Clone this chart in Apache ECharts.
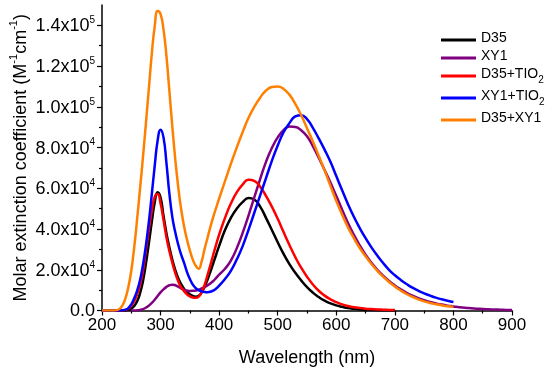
<!DOCTYPE html>
<html>
<head>
<meta charset="utf-8">
<script src="https://cdn.jsdelivr.net/npm/echarts@6/dist/echarts.min.js"></script>
<style>html,body{margin:0;padding:0;background:#fff}#c{width:550px;height:372px}</style>
</head>
<body>
<div id="c"></div>
<script>
// Data (molar extinction coefficient, M^-1 cm^-1) vs wavelength (nm)
const seriesNames = ['D35', 'XY1', 'D35+TIO2', 'XY1+TIO2', 'D35+XY1'];
const legendLabels = ['D35', 'XY1', 'D35+TIO{sub|2}', 'XY1+TIO{sub|2}', 'D35+XY1'];

const d35X = [200,240,245,250,255,260,265,270,275,280,285,290,295,300,305,310,315,320,325,330,335,340,345,350,355,360,365,370,375,380,385,390,395,400,410,420,430,440,450,460,470,480,490,500,510,520,530,540,550,560,570,580,590,600,610,620,630,640,650,660,680,700];
const d35Y = [0,0,300,900,2200,4500,8500,14500,23000,33000,43500,53000,58000,55500,46500,38000,31000,25000,20000,16000,13000,10700,9000,7900,7100,6800,7200,8800,11500,15000,19000,23300,27500,31700,39500,45500,50000,53200,55200,54500,51000,45500,39500,33500,27800,22800,18500,14800,11500,8800,6600,4800,3500,2500,1800,1200,800,500,300,200,100,0];

const xy1X = [250,255,260,265,270,275,280,285,290,295,300,305,310,315,320,325,330,335,340,345,350,355,360,365,370,375,380,385,390,395,400,410,420,430,440,450,460,470,480,490,500,510,520,530,540,550,560,570,580,590,600,610,620,630,640,650,660,670,680,690,700,710,720,730,740,750,760,770,780,790,800,810,820,830,840,850,860,870,880,890,900];
const xy1Y = [0,0,100,300,700,1400,2400,3700,5300,7100,8900,10400,11600,12400,12700,12400,11700,10900,10200,9800,9600,9650,9800,10200,10800,11500,12300,13300,14500,16000,17600,20500,24500,30500,38000,46500,55500,64500,73000,79800,85000,88500,90300,90100,88500,85500,80700,75000,69000,62800,56200,49500,43000,37200,32000,27400,23400,20000,17100,14500,12300,10400,8700,7300,6100,5100,4200,3500,2900,2400,2000,1600,1300,1100,900,700,600,500,400,300,200];

const d35TiO2X = [200,235,240,245,250,255,260,265,270,275,280,285,290,295,300,305,310,315,320,325,330,335,340,345,350,355,360,365,370,375,380,385,390,395,400,410,420,430,440,450,460,470,480,490,500,510,520,530,540,550,560,570,580,590,600,610,620,630,640,650,660,670,680,690,700];
const d35TiO2Y = [0,0,300,900,2200,4500,8000,12500,19500,29500,39500,49000,55800,57200,52500,44500,36000,29200,23500,18500,14500,11500,9500,8000,7000,6400,6200,6800,9000,12500,17200,22200,27500,32500,37200,45500,52500,58000,61800,64200,63600,60800,56300,51000,45000,38500,32200,26200,21000,16600,12800,9700,7300,5500,4100,3000,2200,1600,1200,900,700,500,400,300,200];

const xy1TiO2X = [200,230,235,240,245,250,255,260,265,270,275,280,285,290,295,300,305,310,315,320,325,330,335,340,345,350,355,360,365,370,375,380,385,390,395,400,410,420,430,440,450,460,470,480,490,500,510,520,530,540,550,560,570,580,590,600,610,620,630,640,650,660,670,680,690,700,710,720,730,740,750,760,770,780,790,800];
const xy1TiO2Y = [0,0,100,400,1200,3000,6000,9800,15000,22500,32000,43500,57000,71000,83500,88800,85000,72500,57500,46000,38500,32500,27500,23500,19000,15500,12700,11000,10000,9400,9100,9000,9200,9800,10800,12200,15500,19500,25000,31500,39500,48000,56500,65000,73500,81000,87500,92000,95300,95900,94000,89700,84500,79000,73000,66000,59000,52200,46000,40500,35500,31000,27000,23300,20000,17300,15000,13000,11200,9700,8400,7300,6300,5500,4800,4200];

const d35Xy1X = [200,220,225,230,235,240,245,250,255,260,265,270,275,280,285,290,295,300,305,310,315,320,325,330,335,340,345,350,355,360,365,370,375,380,385,390,395,400,410,420,430,440,450,460,470,480,490,500,510,520,530,540,550,560,570,580,590,600,610,620,630,640,650,660,670,680,690,700,710,720,730,740,750,760,770,780,790,800];
const d35Xy1Y = [0,0,200,800,2500,6000,11500,19500,31000,45000,60000,75500,92000,109000,126000,139500,147000,145500,138000,125000,108000,90500,74500,61000,50000,41500,35000,29500,25000,22000,20500,24000,30000,35500,41000,46000,50500,55000,63500,72000,80000,87500,94500,100000,104500,108000,109700,110000,108800,106000,101500,96000,89500,83000,76000,68800,61200,53800,47000,40800,35500,30700,26600,22800,19500,16600,14000,11800,9800,8100,6700,5500,4500,3700,3100,2600,2100,1800];

const colors = ['#000000', '#800080', '#ff0000', '#0000ff', '#ff8000'];
const xs = [d35X, xy1X, d35TiO2X, xy1TiO2X, d35Xy1X];
const ys = [d35Y, xy1Y, d35TiO2Y, xy1TiO2Y, d35Xy1Y];

const xTicks = [200, 300, 400, 500, 600, 700, 800, 900];
const yTicks = [0, 20000, 40000, 60000, 80000, 100000, 120000, 140000];
const yTickLabels = ['0.0', '2.0x10{sup|4}', '4.0x10{sup|4}', '6.0x10{sup|4}', '8.0x10{sup|4}', '1.0x10{sup|5}', '1.2x10{sup|5}', '1.4x10{sup|5}'];

const FONT = 'Liberation Sans, Arial, sans-serif';
const chart = echarts.init(document.getElementById('c'), null, {renderer: 'canvas'});

const series = seriesNames.map((name, i) => ({
  name: name,
  type: 'line',
  smooth: 0.5,
  showSymbol: false,
  symbol: 'none',
  lineStyle: {color: colors[i], width: 2.5},
  itemStyle: {color: colors[i]},
  data: xs[i].map((x, k) => [x, ys[i][k]]),
  z: 2 + i
}));

chart.setOption({
  animation: false,
  backgroundColor: '#ffffff',
  grid: {left: 102, right: 38, top: 5, bottom: 61.5, containLabel: false, outerBoundsMode: 'none'},
  legend: {
    orient: 'vertical',
    left: 436,
    top: 26,
    itemWidth: 35,
    itemHeight: 3,
    itemGap: 4,
    icon: 'rect',
    data: seriesNames,
    formatter: function (name) { return legendLabels[seriesNames.indexOf(name)].replace(/^([^{]+)/, '{n|$1}'); },
    textStyle: {
      fontFamily: FONT, fontSize: 14, color: '#000',
      rich: {
        n: {fontFamily: FONT, fontSize: 14, color: '#000', lineHeight: 18, verticalAlign: 'top'},
        sub: {fontFamily: FONT, fontSize: 10, color: '#000', lineHeight: 10, verticalAlign: 'bottom'}
      }
    }
  },
  xAxis: {
    type: 'value', min: 200, max: 900, interval: 100,
    name: 'Wavelength (nm)', nameLocation: 'middle', nameGap: 39,
    nameTextStyle: {fontFamily: FONT, fontSize: 18, color: '#000'},
    axisLine: {onZero: false, lineStyle: {color: '#000', width: 1.5}},
    axisTick: {show: true, inside: false, length: 5, customValues: xTicks, lineStyle: {color: '#000', width: 1.2}},
    minorTick: {show: true, splitNumber: 2, length: 3, lineStyle: {color: '#000', width: 1.2}},
    splitLine: {show: false},
    axisLabel: {customValues: xTicks, fontFamily: FONT, fontSize: 17, color: '#000', margin: 6}
  },
  yAxis: {
    type: 'value', min: 0, max: 150000, interval: 20000,
    name: '{n|Molar extinction coefficient (M}{sup|-1}{n|cm}{sup|-1}{n|)}',
    nameLocation: 'middle', nameGap: 72, nameRotate: 90, nameMoveOverlap: false,
    nameTextStyle: {
      fontFamily: FONT, fontSize: 18, color: '#000',
      rich: {
        n: {fontFamily: FONT, fontSize: 18, color: '#000', lineHeight: 22, verticalAlign: 'bottom'},
        sup: {fontFamily: FONT, fontSize: 11, color: '#000', lineHeight: 12, verticalAlign: 'top'}
      }
    },
    axisLine: {show: true, lineStyle: {color: '#000', width: 1.5}},
    axisTick: {show: true, inside: false, length: 5, customValues: yTicks, lineStyle: {color: '#000', width: 1.2}},
    minorTick: {show: true, splitNumber: 2, length: 3, lineStyle: {color: '#000', width: 1.2}},
    splitLine: {show: false},
    axisLabel: {
      customValues: yTicks,
      margin: 7,
      formatter: function (v) {
        const i = yTicks.indexOf(v);
        if (i < 0) return '';
        return yTickLabels[i].replace(/^([^{]+)/, '{n|$1}');
      },
      fontFamily: FONT, fontSize: 18, color: '#000',
      rich: {
        n: {fontFamily: FONT, fontSize: 18, color: '#000', lineHeight: 20, verticalAlign: 'bottom'},
        sup: {fontFamily: FONT, fontSize: 10, color: '#000', lineHeight: 11, verticalAlign: 'top'}
      }
    }
  },
  series: series
});
</script>
</body>
</html>
